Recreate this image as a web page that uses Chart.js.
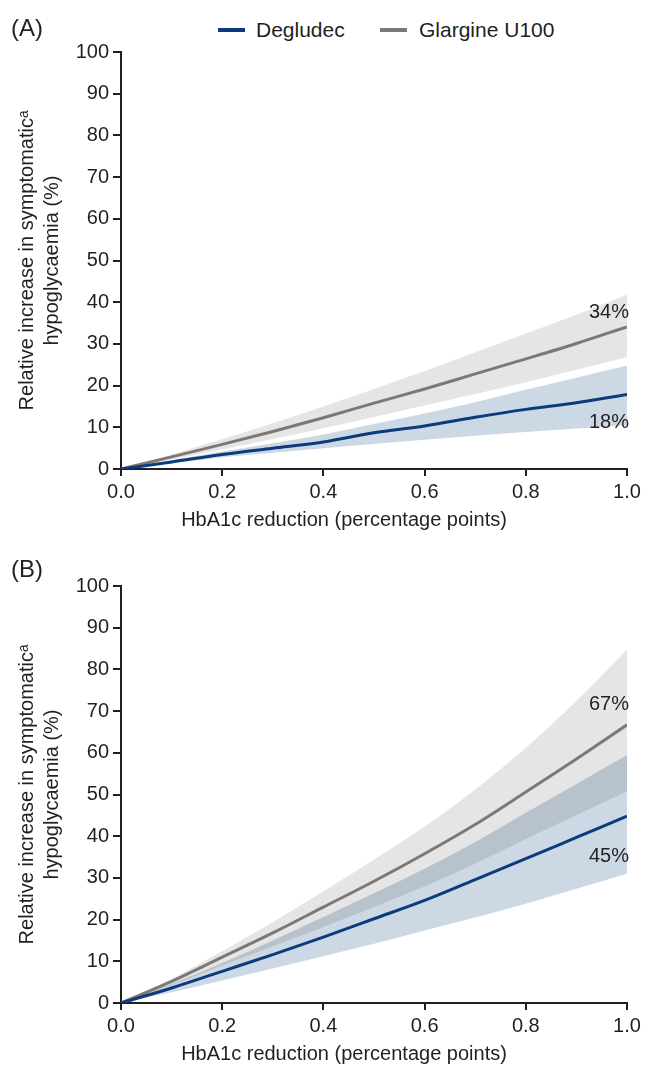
<!DOCTYPE html>
<html>
<head>
<meta charset="utf-8">
<script src="https://cdn.jsdelivr.net/npm/chart.js@4.4.0/dist/chart.umd.min.js"></script>
<style>
  body { margin: 0; background: #fff; font-family: "Liberation Sans", Arial, sans-serif; }
  #wrap { position: relative; width: 655px; height: 1067px; }
  canvas { position: absolute; left: 0; }
  .lg { position: absolute; font-size: 21px; color: #231f20; line-height: 24px; }
  .sw { position: absolute; width: 27px; height: 4px; }
</style>
</head>
<body>
<div id="wrap">
  <div class="sw" style="left:218px;top:28px;background:#0b3b7b"></div>
  <div class="lg" style="left:256px;top:18px">Degludec</div>
  <div class="sw" style="left:380px;top:28px;background:#7d7875"></div>
  <div class="lg" style="left:419px;top:18px">Glargine U100</div>
  <canvas id="chartA" style="top:0"></canvas>
  <canvas id="chartB" style="top:535px"></canvas>
</div>
<script>
// HbA1c reduction (percentage points)
const xValues = [0, 0.1, 0.2, 0.3, 0.4, 0.5, 0.6, 0.7, 0.8, 0.9, 1.0];

// Panel A
const degludecA      = [0, 1.7, 3.5, 5.0, 6.5, 8.7, 10.3, 12.4, 14.3, 15.9, 17.9];
const degludecAUpper = [0, 2.1, 4.2, 6.2, 8.3, 10.8, 13.3, 16.0, 19.0, 21.9, 24.8];
const degludecALower = [0, 1.3, 2.8, 3.9, 5.0, 6.0, 7.0, 8.0, 8.9, 9.7, 10.5];
const glargineA      = [0, 2.9, 5.9, 9.0, 12.3, 15.8, 19.2, 22.8, 26.4, 30.1, 34.1];
const glargineAUpper = [0, 3.5, 7.2, 11.0, 15.0, 19.2, 23.5, 28.0, 32.5, 37.0, 41.8];
const glargineALower = [0, 2.3, 4.7, 7.2, 9.8, 12.5, 15.2, 18.0, 20.8, 23.8, 26.8];

// Panel B
const degludecB      = [0, 3.6, 7.6, 11.6, 15.8, 20.2, 24.6, 29.6, 34.6, 39.7, 44.8];
const degludecBUpper = [0, 4.6, 9.6, 15.0, 20.6, 26.3, 32.2, 38.6, 45.6, 52.5, 59.5];
const degludecBLower = [0, 2.6, 5.4, 8.3, 11.2, 14.2, 17.4, 20.5, 23.8, 27.4, 31.0];
const glargineB      = [0, 5.2, 11.0, 16.8, 23.0, 29.2, 35.8, 42.8, 50.6, 58.5, 66.7];
const glargineBUpper = [0, 5.8, 12.4, 19.4, 26.8, 34.4, 42.3, 51.2, 61.2, 72.5, 84.8];
const glargineBLower = [0, 4.3, 9.0, 13.6, 18.2, 23.0, 28.0, 33.4, 39.3, 45.0, 50.8];

const yTitle = ["Relative increase in symptomaticᵃ", "hypoglycaemia (%)"];
const xTitle = "HbA1c reduction (percentage points)";

const FONT = '"Liberation Sans", Arial, sans-serif';
const INK = "#231f20";
const BLUE = "#0b3b7b";
const GREY = "#7d7875";

const pts = (ys) => xValues.map((x, i) => ({ x: x, y: ys[i] }));
const pct = (ys) => Math.round(ys[ys.length - 1]) + "%";

// panel letter, x-axis title and end-of-line percentages
const textPlugin = {
  id: "texts",
  afterDatasetsDraw(chart, args, opts) {
    const { ctx, scales: { x, y } } = chart;
    ctx.save();
    ctx.fillStyle = INK;
    ctx.textBaseline = "middle";
    ctx.textAlign = "left";
    ctx.font = "24px " + FONT;
    ctx.fillText(opts.panel, 11, opts.panelY);
    ctx.font = "20px " + FONT;
    ctx.textAlign = "center";
    ctx.fillText(xTitle, 344, y.bottom + 51);
    ctx.textAlign = "right";
    opts.ends.forEach((e) => {
      const v = e.data[e.data.length - 1];
      ctx.fillText(pct(e.data), x.getPixelForValue(1.0) + 2, y.getPixelForValue(v) + e.dy);
    });
    ctx.restore();
  },
};

function makeChart(id, h, padTop, deg, degUp, degLo, gla, glaUp, glaLo, panel, panelY, dyGla, dyDeg) {
  const cv = document.getElementById(id);
  cv.width = 655;
  cv.height = h;
  cv.style.width = "655px";
  cv.style.height = h + "px";
  return new Chart(cv.getContext("2d"), {
    type: "line",
    data: {
      datasets: [
        { label: "Degludec", data: pts(deg), borderColor: BLUE, borderWidth: 3, order: 0 },
        { label: "Glargine U100", data: pts(gla), borderColor: GREY, borderWidth: 3, order: 1 },
        { data: pts(glaUp), borderWidth: 0, fill: 3, backgroundColor: "rgba(0,0,0,0.1)", order: 2 },
        { data: pts(glaLo), borderWidth: 0, fill: false, order: 2 },
        { data: pts(degUp), borderWidth: 0, fill: 5, backgroundColor: "#cdd8e5", order: 3 },
        { data: pts(degLo), borderWidth: 0, fill: false, order: 3 },
      ],
    },
    options: {
      responsive: false,
      animation: false,
      events: [],
      devicePixelRatio: 1,
      elements: { point: { radius: 0 }, line: { cubicInterpolationMode: "monotone" } },
      layout: { padding: { top: padTop, right: 28, left: 0, bottom: 0 } },
      scales: {
        x: {
          type: "linear",
          min: 0,
          max: 1,
          afterFit: (s) => { s.height = 64; },
          border: { color: INK, width: 2 },
          grid: { drawOnChartArea: false, tickLength: 7, color: INK, lineWidth: 2 },
          ticks: {
            stepSize: 0.2,
            padding: 4,
            color: INK,
            font: { family: FONT, size: 20 },
            callback: (v) => v.toFixed(1),
          },
        },
        y: {
          min: 0,
          max: 100,
          afterFit: (s) => { s.width = 121; },
          border: { color: INK, width: 2 },
          grid: { drawOnChartArea: false, tickLength: 8, color: INK, lineWidth: 2 },
          ticks: {
            stepSize: 10,
            padding: 4,
            color: INK,
            font: { family: FONT, size: 20 },
          },
          title: {
            display: true,
            text: yTitle,
            color: INK,
            font: { family: FONT, size: 20, lineHeight: 1.25 },
            padding: { top: 15, bottom: 0 },
          },
        },
      },
      plugins: {
        legend: { display: false },
        tooltip: { enabled: false },
        texts: {
          panel: panel,
          panelY: panelY,
          ends: [
            { data: gla, dy: dyGla },
            { data: deg, dy: dyDeg },
          ],
        },
      },
    },
    plugins: [textPlugin],
  });
}

makeChart("chartA", 533, 52, degludecA, degludecAUpper, degludecALower,
  glargineA, glargineAUpper, glargineALower, "(A)", 29, -14, 28);
makeChart("chartB", 532, 51, degludecB, degludecBUpper, degludecBLower,
  glargineB, glargineBUpper, glargineBLower, "(B)", 35, -20, 40);
</script>
</body>
</html>
